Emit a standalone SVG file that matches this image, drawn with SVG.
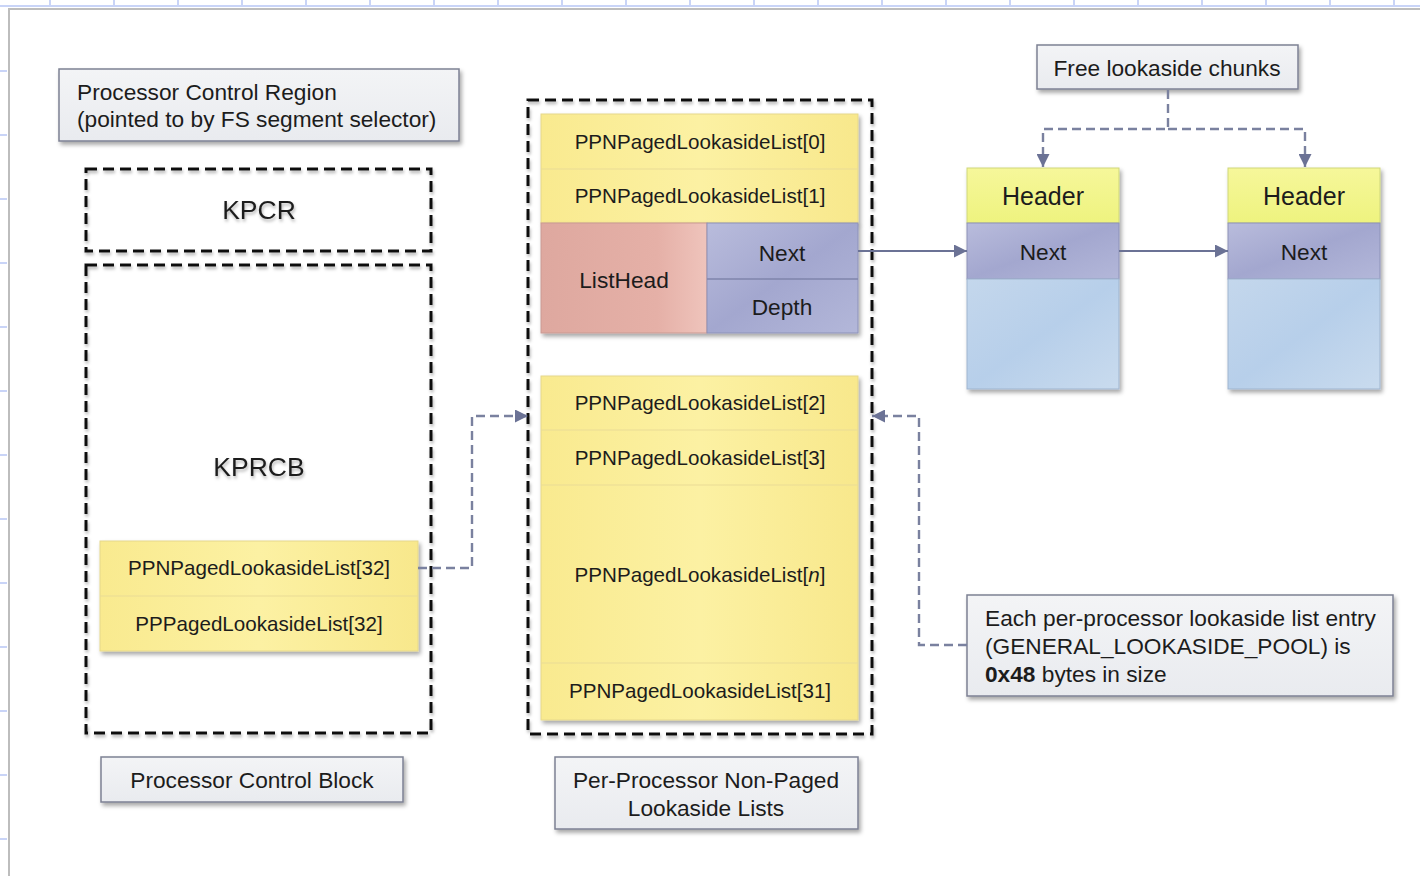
<svg xmlns="http://www.w3.org/2000/svg" width="1420" height="876" viewBox="0 0 1420 876">
  <style>
    text { font-family: "Liberation Sans", Arial, sans-serif; fill: #1c1c1c; }
    .lbl { font-size: 22.7px; }
    .row { font-size: 20.6px; text-anchor: middle; }
    .mid { text-anchor: middle; }
    .big { font-size: 26.5px; text-anchor: middle; }
    .hdr { font-size: 25px; text-anchor: middle; }
    .note { fill: url(#gNote); stroke: #7d8194; stroke-width: 1.5; }
    .frame { fill: none; stroke: #111; stroke-width: 3; stroke-dasharray: 11 6; }
    .yrow { fill: url(#gYellow); stroke: #e6d88c; stroke-width: 1; }
    .div { stroke: #eadc95; stroke-width: 1.2; }
    .wire { fill: none; stroke: #6b7295; stroke-width: 2; }
    .dash { fill: none; stroke: #7a819f; stroke-width: 2.4; stroke-dasharray: 9 5; }
    .grid { stroke: #c9d4f7; stroke-width: 2; }
  </style>
  <defs>
    <linearGradient id="gNote" x1="0" y1="0" x2="0" y2="1">
      <stop offset="0" stop-color="#f3f4f6"/>
      <stop offset="1" stop-color="#e9ebef"/>
    </linearGradient>
    <linearGradient id="gYellow" x1="0" y1="0" x2="1" y2="0">
      <stop offset="0" stop-color="#f9ea8f"/>
      <stop offset="0.5" stop-color="#fcf1a3"/>
      <stop offset="1" stop-color="#f8e88c"/>
    </linearGradient>
    <linearGradient id="gHeader" x1="0" y1="0" x2="0" y2="1">
      <stop offset="0" stop-color="#f6f79a"/>
      <stop offset="1" stop-color="#eef37f"/>
    </linearGradient>
    <linearGradient id="gLav" x1="0" y1="0" x2="1" y2="1">
      <stop offset="0" stop-color="#b9bcdc"/>
      <stop offset="0.5" stop-color="#a3a7cf"/>
      <stop offset="1" stop-color="#b3b7d9"/>
    </linearGradient>
    <linearGradient id="gBody" x1="0" y1="0" x2="1" y2="1">
      <stop offset="0" stop-color="#c4d7ec"/>
      <stop offset="0.5" stop-color="#b7cfea"/>
      <stop offset="1" stop-color="#c9dbee"/>
    </linearGradient>
    <linearGradient id="gPink" x1="0" y1="0" x2="1" y2="0">
      <stop offset="0" stop-color="#dea89f"/>
      <stop offset="0.7" stop-color="#e5b0a7"/>
      <stop offset="1" stop-color="#efc4bc"/>
    </linearGradient>
    <filter id="shadow" x="-10%" y="-10%" width="125%" height="130%">
      <feDropShadow dx="2" dy="3" stdDeviation="2" flood-color="#000" flood-opacity="0.35"/>
    </filter>
    <filter id="soft" x="-10%" y="-20%" width="120%" height="150%">
      <feDropShadow dx="1" dy="2.5" stdDeviation="1.6" flood-color="#000" flood-opacity="0.3"/>
    </filter>
    <marker id="arrow" viewBox="0 0 10 10" refX="10" refY="5" markerUnits="userSpaceOnUse" markerWidth="14" markerHeight="13" orient="auto">
      <path d="M0,0 L10,5 L0,10 z" fill="#6b7295"/>
    </marker>
  </defs>

  <!-- page background and sheet ruler -->
  <rect x="0" y="0" width="1420" height="876" fill="#ffffff"/>
  <g id="ruler">
    <line class="grid" x1="0" y1="6" x2="1420" y2="6"/>
    <path class="grid" d="M50,0V6 M114,0V6 M178,0V6 M242,0V6 M306,0V6 M370,0V6 M434,0V6 M498,0V6 M562,0V6 M626,0V6 M690,0V6 M754,0V6 M818,0V6 M882,0V6 M946,0V6 M1010,0V6 M1074,0V6 M1138,0V6 M1202,0V6 M1266,0V6 M1330,0V6 M1394,0V6"/>
    <path class="grid" d="M0,71H7 M0,135H7 M0,199H7 M0,263H7 M0,327H7 M0,391H7 M0,455H7 M0,519H7 M0,583H7 M0,647H7 M0,711H7 M0,775H7 M0,839H7"/>
    <path d="M9,876V9H1420" fill="none" stroke="#bdbdbd" stroke-width="2"/>
  </g>

  <!-- Processor Control Region caption -->
  <g id="pcr-label">
    <rect class="note" x="59" y="69" width="400" height="72" filter="url(#shadow)"/>
    <text class="lbl" x="77" y="100">Processor Control Region</text>
    <text class="lbl" x="77" y="127">(pointed to by FS segment selector)</text>
  </g>

  <!-- KPCR -->
  <g id="kpcr">
    <rect class="frame" x="86" y="169" width="345" height="82" filter="url(#soft)"/>
    <text class="big" x="259" y="219" filter="url(#soft)">KPCR</text>
  </g>

  <!-- KPRCB with its lookaside list pointers -->
  <g id="kprcb">
    <rect class="frame" x="86" y="265" width="345" height="468" filter="url(#soft)"/>
    <text class="big" x="259" y="476" filter="url(#soft)">KPRCB</text>
    <rect class="yrow" x="100" y="541" width="318" height="110" filter="url(#shadow)"/>
    <line class="div" x1="100" y1="596" x2="418" y2="596"/>
    <text class="row" x="259" y="575">PPNPagedLookasideList[32]</text>
    <text class="row" x="259" y="631">PPPagedLookasideList[32]</text>
  </g>

  <g id="pcb-label">
    <rect class="note" x="101" y="757" width="302" height="45" filter="url(#shadow)"/>
    <text class="lbl mid" x="252" y="788">Processor Control Block</text>
  </g>

  <!-- Per-processor non-paged lookaside list array -->
  <g id="ppnpl">
    <rect class="frame" x="528" y="100" width="344" height="634" filter="url(#soft)"/>
    <rect class="yrow" x="541" y="114" width="317" height="109" filter="url(#shadow)"/>
    <line class="div" x1="541" y1="169" x2="858" y2="169"/>
    <text class="row" x="700" y="149">PPNPagedLookasideList[0]</text>
    <text class="row" x="700" y="203">PPNPagedLookasideList[1]</text>
    <g id="listhead" filter="url(#shadow)">
      <rect x="541" y="223" width="166" height="110" fill="url(#gPink)" stroke="#c99a93" stroke-width="1"/>
      <rect x="707" y="223" width="151" height="110" fill="url(#gLav)" stroke="#8d92b8" stroke-width="1"/>
      <line x1="707" y1="279" x2="858" y2="279" stroke="#7f84ab" stroke-width="1.5"/>
    </g>
    <text class="lbl mid" x="624" y="288">ListHead</text>
    <text class="lbl mid" x="782" y="261">Next</text>
    <text class="lbl mid" x="782" y="315">Depth</text>

    <rect class="yrow" x="541" y="376" width="317" height="344" filter="url(#shadow)"/>
    <line class="div" x1="541" y1="430" x2="858" y2="430"/>
    <line class="div" x1="541" y1="485" x2="858" y2="485"/>
    <line class="div" x1="541" y1="663" x2="858" y2="663"/>
    <text class="row" x="700" y="410">PPNPagedLookasideList[2]</text>
    <text class="row" x="700" y="465">PPNPagedLookasideList[3]</text>
    <text class="row" x="700" y="582">PPNPagedLookasideList[<tspan font-style="italic">n</tspan>]</text>
    <text class="row" x="700" y="698">PPNPagedLookasideList[31]</text>
  </g>

  <g id="ppnpl-label">
    <rect class="note" x="555" y="757" width="303" height="72" filter="url(#shadow)"/>
    <text class="lbl mid" x="706" y="788">Per-Processor Non-Paged</text>
    <text class="lbl mid" x="706" y="816">Lookaside Lists</text>
  </g>

  <g id="free-label">
    <rect class="note" x="1037" y="45" width="261" height="44" filter="url(#shadow)"/>
    <text class="lbl mid" x="1167" y="76">Free lookaside chunks</text>
  </g>

  <!-- free chunks -->
  <g id="chunk1">
    <g filter="url(#shadow)">
      <rect x="967" y="168" width="152" height="55" fill="url(#gHeader)" stroke="#cfd77a" stroke-width="1"/>
      <rect x="967" y="223" width="152" height="56" fill="url(#gLav)" stroke="#8d92b8" stroke-width="1"/>
      <rect x="967" y="279" width="152" height="110" fill="url(#gBody)" stroke="#9fb5cf" stroke-width="1"/>
    </g>
    <text class="hdr" x="1043" y="205">Header</text>
    <text class="lbl mid" x="1043" y="260">Next</text>
  </g>

  <g id="chunk2">
    <g filter="url(#shadow)">
      <rect x="1228" y="168" width="152" height="55" fill="url(#gHeader)" stroke="#cfd77a" stroke-width="1"/>
      <rect x="1228" y="223" width="152" height="56" fill="url(#gLav)" stroke="#8d92b8" stroke-width="1"/>
      <rect x="1228" y="279" width="152" height="110" fill="url(#gBody)" stroke="#9fb5cf" stroke-width="1"/>
    </g>
    <text class="hdr" x="1304" y="205">Header</text>
    <text class="lbl mid" x="1304" y="260">Next</text>
  </g>

  <g id="note">
    <rect class="note" x="967" y="595" width="426" height="101" filter="url(#shadow)"/>
    <text class="lbl" x="985" y="626">Each per-processor lookaside list entry</text>
    <text class="lbl" x="985" y="654">(GENERAL_LOOKASIDE_POOL) is</text>
    <text class="lbl" x="985" y="682"><tspan font-weight="bold">0x48</tspan> bytes in size</text>
  </g>

  <!-- connectors -->
  <g id="connectors">
    <path class="wire" d="M858,251 H967" marker-end="url(#arrow)"/>
    <path class="wire" d="M1119,251 H1228" marker-end="url(#arrow)"/>
    <path class="dash" d="M1168,90 V129 H1043 V167" marker-end="url(#arrow)"/>
    <path class="dash" d="M1168,129 H1305 V167" marker-end="url(#arrow)"/>
    <path class="dash" d="M418,568 H472 V416 H528" marker-end="url(#arrow)"/>
    <path class="dash" d="M967,645 H919 V416 H872" marker-end="url(#arrow)"/>
  </g>
</svg>
